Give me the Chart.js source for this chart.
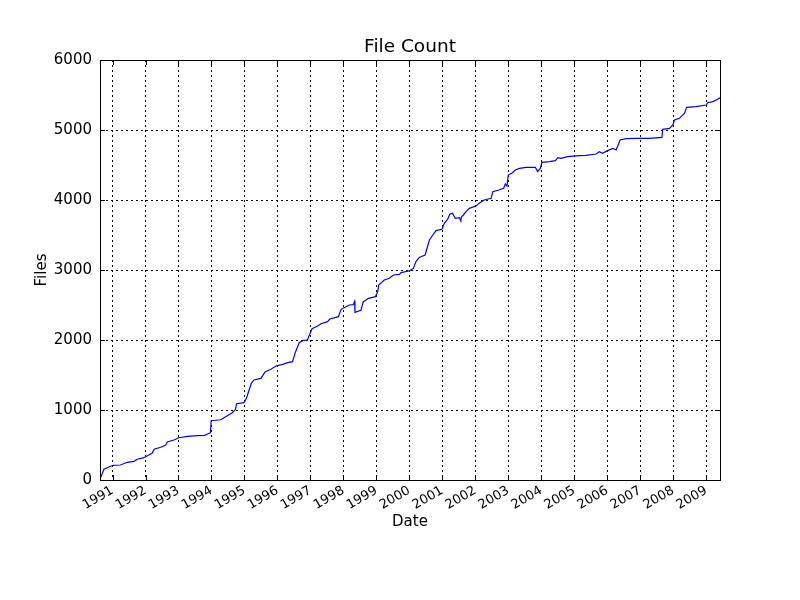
<!DOCTYPE html>
<html>
<head>
<meta charset="utf-8">
<title>File Count</title>
<script src="https://cdn.jsdelivr.net/npm/chart.js@4.4.0/dist/chart.umd.min.js"></script>
<style>
  html, body { margin: 0; padding: 0; background: #fff; }
</style>
</head>
<body>
<canvas id="canvas" width="800" height="600"></canvas>
<script>
// dates as decimal years
const dates = [
  1990.62, 1990.74, 1990.94, 1991.02, 1991.24, 1991.45, 1991.65, 1991.75, 1991.95,
  1992.10, 1992.20, 1992.26, 1992.46, 1992.61, 1992.66, 1992.86,
  1993.01, 1993.27, 1993.57, 1993.79, 1993.97, 1993.99,
  1994.28, 1994.43, 1994.63, 1994.73, 1994.76, 1994.99,
  1995.06, 1995.14, 1995.21, 1995.29, 1995.50, 1995.63, 1995.80, 1995.96,
  1996.16, 1996.31, 1996.46, 1996.54, 1996.66, 1996.76, 1996.91, 1996.99,
  1997.05, 1997.22, 1997.32, 1997.52, 1997.59, 1997.85, 1997.93,
  1998.08, 1998.18, 1998.30, 1998.34, 1998.35, 1998.53, 1998.60, 1998.76, 1998.97,
  1999.04, 1999.07, 1999.24, 1999.39, 1999.52, 1999.70, 1999.75, 1999.98,
  2000.12, 2000.20, 2000.30, 2000.35, 2000.48, 2000.52, 2000.61, 2000.71, 2000.81, 2000.99,
  2001.06, 2001.16, 2001.23, 2001.31, 2001.39, 2001.52, 2001.56, 2001.58, 2001.64, 2001.72, 2001.82,
  2002.02, 2002.14, 2002.27, 2002.48, 2002.53, 2002.71, 2002.86, 2002.91, 2002.96,
  2003.00, 2003.13, 2003.21, 2003.34, 2003.54, 2003.82, 2003.89, 2003.97,
  2004.02, 2004.25, 2004.43, 2004.50, 2004.60, 2004.80,
  2005.16, 2005.36, 2005.66, 2005.76, 2005.86,
  2006.01, 2006.17, 2006.27, 2006.32, 2006.39, 2006.57, 2006.88,
  2007.28, 2007.66, 2007.68, 2007.89, 2007.99,
  2008.04, 2008.19, 2008.34, 2008.41, 2008.69,
  2009.00, 2009.05, 2009.20, 2009.35, 2009.42
];
const files = [
  10, 153, 196, 210, 214, 253, 267, 296, 319,
  357, 381, 439, 467, 500, 543, 571,
  604, 624, 633, 638, 676, 847,
  861, 904, 961, 1010, 1090, 1104,
  1167, 1286, 1381, 1429, 1452, 1548, 1581, 1629,
  1652, 1676, 1690, 1819, 1962, 1990, 2000, 2095,
  2162, 2200, 2233, 2262, 2300, 2333, 2438,
  2476, 2500, 2505, 2552, 2395, 2424, 2543, 2595, 2619,
  2690, 2786, 2857, 2881, 2929, 2938, 2962, 2986,
  3020, 3120, 3180, 3190, 3214, 3286, 3429, 3500, 3562, 3581,
  3667, 3724, 3800, 3810, 3738, 3748, 3700, 3760, 3786, 3833, 3881,
  3914, 3962, 4000, 4024, 4119, 4143, 4167, 4229, 4200,
  4357, 4390, 4429, 4452, 4467, 4467, 4405, 4452,
  4538, 4548, 4562, 4605, 4595, 4619,
  4633, 4638, 4657, 4690, 4667,
  4705, 4738, 4714, 4771, 4857, 4876, 4881,
  4881, 4895, 5010, 5024, 5071,
  5143, 5167, 5238, 5324, 5333,
  5357, 5390, 5405, 5438, 5460
];
const yearTicks = [1991, 1992, 1993, 1994, 1995, 1996, 1997, 1998, 1999, 2000,
                   2001, 2002, 2003, 2004, 2005, 2006, 2007, 2008, 2009];
const fileTicks = [0, 1000, 2000, 3000, 4000, 5000, 6000];

Chart.defaults.font.family = "'DejaVu Sans', sans-serif";
Chart.defaults.color = '#000';

// solid frame and short inward ticks on all four sides, like matplotlib
const frameTicks = {
  id: 'frameTicks',
  afterDraw(chart) {
    const ctx = chart.ctx;
    const a = chart.chartArea;
    const x = chart.scales.x, y = chart.scales.y;
    const len = 5;
    ctx.save();
    ctx.strokeStyle = '#000';
    ctx.lineWidth = 1;
    ctx.beginPath();
    yearTicks.forEach(function(v) {
      const px = Math.round(x.getPixelForValue(v)) + 0.5;
      ctx.moveTo(px, a.bottom); ctx.lineTo(px, a.bottom - len);
      ctx.moveTo(px, a.top); ctx.lineTo(px, a.top + len);
    });
    fileTicks.forEach(function(v) {
      const py = Math.round(y.getPixelForValue(v)) + 0.5;
      ctx.moveTo(a.left, py); ctx.lineTo(a.left + len, py);
      ctx.moveTo(a.right, py); ctx.lineTo(a.right - len, py);
    });
    ctx.stroke();
    ctx.strokeRect(Math.round(a.left) + 0.5, Math.round(a.top) + 0.5,
                   Math.round(a.right - a.left), Math.round(a.bottom - a.top));
    ctx.restore();
  }
};

var ctx = document.getElementById('canvas').getContext('2d');
var chart = new Chart(ctx, {
  type: 'line',
  data: {
    datasets: [{
      data: dates.map(function(d, i) { return {x: d, y: files[i]}; }),
      borderColor: '#0000ff',
      borderWidth: 1.2,
      pointRadius: 0,
      tension: 0,
      fill: false
    }]
  },
  options: {
    responsive: false,
    animation: false,
    devicePixelRatio: 1,
    layout: { padding: { left: 0, right: 80, top: 0, bottom: 0 } },
    plugins: {
      legend: { display: false },
      tooltip: { enabled: false },
      title: {
        display: true,
        text: 'File Count',
        fullSize: false,
        color: '#000',
        font: { size: 18.5, weight: 'normal' },
        padding: { top: 36, bottom: 1.8 }
      }
    },
    scales: {
      x: {
        type: 'linear',
        min: 1990.62,
        max: 2009.42,
        afterBuildTicks: function(scale) {
          scale.ticks = yearTicks.map(function(v) { return {value: v}; });
        },
        afterFit: function(scale) { scale.height = 120; },
        ticks: {
          autoSkip: false,
          minRotation: 30,
          maxRotation: 30,
          padding: 3,
          font: { size: 13 },
          callback: function(v) { return String(v); }
        },
        grid: { color: '#000', lineWidth: 1, drawTicks: false },
        border: { color: '#000', dash: [2, 3] },
        title: {
          display: true,
          text: 'Date',
          font: { size: 15 },
          padding: { top: 0, bottom: 68.5 }
        }
      },
      y: {
        min: 0,
        max: 6000,
        afterBuildTicks: function(scale) {
          scale.ticks = fileTicks.map(function(v) { return {value: v}; });
        },
        afterFit: function(scale) { scale.width = 100; },
        ticks: {
          padding: 8,
          font: { size: 15 },
          callback: function(v) { return String(v); }
        },
        grid: { color: '#000', lineWidth: 1, drawTicks: false },
        border: { color: '#000', dash: [2, 3] },
        title: {
          display: true,
          text: 'Files',
          font: { size: 15 },
          padding: { top: 33, bottom: 0 }
        }
      }
    }
  },
  plugins: [frameTicks]
});
</script>
</body>
</html>
